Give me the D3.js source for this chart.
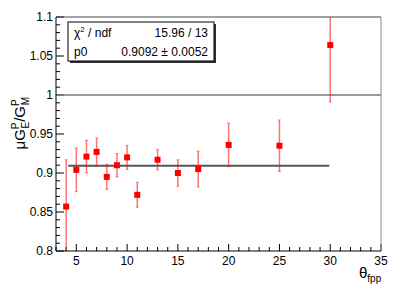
<!DOCTYPE html>
<html>
<head>
<meta charset="utf-8">
<script src="https://cdn.jsdelivr.net/npm/d3@7"></script>
<style>
  body { margin: 0; background: #fff; }
  svg { font-family: "Liberation Sans", Arial, sans-serif; }
</style>
</head>
<body>
<div id="chart"></div>
<script>
// measured points (theta_fpp, ratio, error)
var theta = [4, 5, 6, 7, 8, 9, 10, 11, 13, 15, 17, 20, 25, 30];
var ratio = [0.857, 0.904, 0.921, 0.927, 0.895, 0.910, 0.920, 0.872, 0.917, 0.900, 0.905, 0.936, 0.935, 1.064];
var errs  = [0.060, 0.028, 0.021, 0.018, 0.016, 0.015, 0.0155, 0.016, 0.013, 0.017, 0.023, 0.028, 0.033, 0.073];

// constant fit p0 and its range
var fitValue = 0.9092;
var fitRange = [4.2, 29.9];
var refLine = 1;

var xTicks = [5, 10, 15, 20, 25, 30, 35];
var yTicks = [0.8, 0.85, 0.9, 0.95, 1, 1.05, 1.1];
var statRows = [["\u03c7", "15.96 / 13"], ["p0", "0.9092 \u00b1 0.0052"]];

var margin = {top: 17, right: 26, bottom: 41, left: 56},
    W = 407, H = 292,
    width = W - margin.left - margin.right,
    height = H - margin.top - margin.bottom;

var svg = d3.select("#chart").append("svg")
    .attr("width", W)
    .attr("height", H);

var g = svg.append("g")
    .attr("transform", "translate(" + margin.left + "," + margin.top + ")");

var x = d3.scaleLinear().domain([3, 35]).range([0, width]);
var y = d3.scaleLinear().domain([0.8, 1.1]).range([height, 0]);

g.append("clipPath").attr("id", "clip")
  .append("rect").attr("width", width).attr("height", height);

// x axis - ticks point up into the frame
var xMinor = d3.range(3, 36, 1);
g.selectAll(".xminor").data(xMinor).enter().append("line")
    .attr("x1", function(d) { return x(d); })
    .attr("x2", function(d) { return x(d); })
    .attr("y1", height)
    .attr("y2", function(d) { return d % 5 === 0 ? height - 7 : height - 4; })
    .attr("stroke", "#000").attr("stroke-width", 1);

g.selectAll(".xlab").data(xTicks).enter().append("text")
    .attr("x", function(d) { return x(d); })
    .attr("y", height + 14)
    .attr("text-anchor", "middle")
    .attr("font-size", 12)
    .text(function(d) { return d; });

// y axis - ticks point right
var yMinor = d3.range(80, 111, 1).map(function(d) { return d / 100; });
g.selectAll(".yminor").data(yMinor).enter().append("line")
    .attr("x1", 0)
    .attr("x2", function(d, i) { return i % 5 === 0 ? 8 : 4; })
    .attr("y1", function(d) { return y(d); })
    .attr("y2", function(d) { return y(d); })
    .attr("stroke", "#000").attr("stroke-width", 1);

g.selectAll(".ylab").data(yTicks).enter().append("text")
    .attr("x", -3)
    .attr("y", function(d) { return y(d) + 4; })
    .attr("text-anchor", "end")
    .attr("font-size", 12)
    .text(function(d) { return d3.format("")(d); });

// reference line at 1
g.append("line")
    .attr("x1", 0).attr("x2", width)
    .attr("y1", y(refLine)).attr("y2", y(refLine))
    .attr("stroke", "#777").attr("stroke-width", 1.5);

// fit line
g.append("line")
    .attr("x1", x(fitRange[0])).attr("x2", x(fitRange[1]))
    .attr("y1", y(fitValue)).attr("y2", y(fitValue))
    .attr("stroke", "#555").attr("stroke-width", 2);

// error bars
var pts = theta.map(function(t, i) { return {x: t, y: ratio[i], e: errs[i]}; });
var eb = g.append("g").attr("clip-path", "url(#clip)");
eb.selectAll(".err").data(pts).enter().append("line")
    .attr("x1", function(d) { return x(d.x); })
    .attr("x2", function(d) { return x(d.x); })
    .attr("y1", function(d) { return y(d.y + d.e); })
    .attr("y2", function(d) { return y(d.y - d.e); })
    .attr("stroke", "#ff0000").attr("stroke-opacity", 0.55).attr("stroke-width", 1.5);
eb.selectAll(".capT").data(pts).enter().append("line")
    .attr("x1", function(d) { return x(d.x) - 1.5; })
    .attr("x2", function(d) { return x(d.x) + 1.5; })
    .attr("y1", function(d) { return y(d.y + d.e); })
    .attr("y2", function(d) { return y(d.y + d.e); })
    .attr("stroke", "#ff0000").attr("stroke-opacity", 0.45).attr("stroke-width", 1);
eb.selectAll(".capB").data(pts).enter().append("line")
    .attr("x1", function(d) { return x(d.x) - 1.5; })
    .attr("x2", function(d) { return x(d.x) + 1.5; })
    .attr("y1", function(d) { return y(d.y - d.e); })
    .attr("y2", function(d) { return y(d.y - d.e); })
    .attr("stroke", "#ff0000").attr("stroke-opacity", 0.45).attr("stroke-width", 1);

// markers
g.selectAll(".pt").data(pts).enter().append("rect")
    .attr("x", function(d) { return x(d.x) - 3; })
    .attr("y", function(d) { return y(d.y) - 3; })
    .attr("width", 6).attr("height", 6)
    .attr("fill", "#ff0000");

// frame
g.append("line").attr("x1", 0).attr("x2", width).attr("y1", 0).attr("y2", 0)
    .attr("stroke", "#444").attr("stroke-width", 1);
g.append("line").attr("x1", width).attr("x2", width).attr("y1", 0).attr("y2", height)
    .attr("stroke", "#888").attr("stroke-width", 1);
g.append("line").attr("x1", 0).attr("x2", 0).attr("y1", 0).attr("y2", height)
    .attr("stroke", "#000").attr("stroke-width", 1);
g.append("line").attr("x1", 0).attr("x2", width).attr("y1", height).attr("y2", height)
    .attr("stroke", "#000").attr("stroke-width", 1);

// stats box
var box = {x: 68, y: 22, w: 146, h: 39};
svg.append("rect")
    .attr("x", box.x + 2).attr("y", box.y + 2)
    .attr("width", box.w).attr("height", box.h)
    .attr("fill", "#333");
svg.append("rect")
    .attr("x", box.x).attr("y", box.y)
    .attr("width", box.w).attr("height", box.h)
    .attr("fill", "#fff").attr("stroke", "#000").attr("stroke-width", 1);

var r1 = svg.append("text").attr("x", box.x + 6).attr("y", box.y + 15).attr("font-size", 12);
r1.append("tspan").text(statRows[0][0]);
r1.append("tspan").attr("dy", -5).attr("font-size", 8).text("2");
r1.append("tspan").attr("dy", 5).text(" / ndf");
svg.append("text").attr("x", box.x + box.w - 6).attr("y", box.y + 15)
    .attr("font-size", 12).attr("text-anchor", "end").text(statRows[0][1]);
svg.append("text").attr("x", box.x + 6).attr("y", box.y + 34)
    .attr("font-size", 12).text(statRows[1][0]);
svg.append("text").attr("x", box.x + box.w - 6).attr("y", box.y + 34)
    .attr("font-size", 12).attr("text-anchor", "end").text(statRows[1][1]);

// y axis title
var yt = svg.append("text")
    .attr("transform", "translate(25,97) rotate(-90)")
    .attr("text-anchor", "end")
    .attr("font-size", 15);
yt.append("tspan").text("\u03bcG");
yt.append("tspan").attr("font-size", 10).attr("dy", -6).text("P");
yt.append("tspan").attr("font-size", 10).attr("dx", -6).attr("dy", 10).text("E");
yt.append("tspan").attr("dy", -4).text("/G");
yt.append("tspan").attr("font-size", 10).attr("dy", -6).text("P");
yt.append("tspan").attr("font-size", 10).attr("dx", -6).attr("dy", 10).text("M");

// x axis title
var xt = svg.append("text")
    .attr("x", 359).attr("y", 278)
    .attr("font-size", 15);
xt.append("tspan").text("\u03b8");
xt.append("tspan").attr("font-size", 10).attr("dy", 4).text("fpp");
</script>
</body>
</html>
